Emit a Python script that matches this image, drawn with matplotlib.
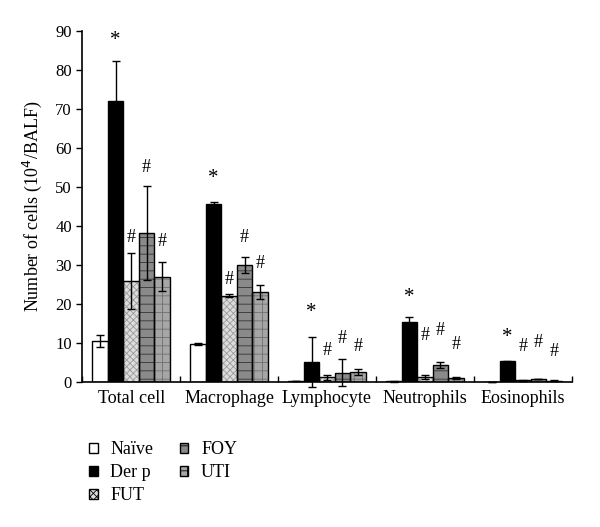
import matplotlib
matplotlib.use("Agg")
import matplotlib.pyplot as plt
from matplotlib.patches import Patch
import numpy as np

plt.rcParams['font.family'] = ['Liberation Serif', 'DejaVu Serif']
plt.rcParams['hatch.linewidth'] = 0.6

categories = ["Total cell", "Macrophage", "Lymphocyte", "Neutrophils", "Eosinophils"]
groups = ["Naïve", "Der p", "FUT", "FOY", "UTI"]

naive = [10.5, 9.8, 0.3, 0.2, 0.1]
derp = [72.0, 45.6, 5.2, 15.4, 5.3]
fut = [26.0, 22.1, 1.2, 1.3, 0.5]
foy = [38.3, 30.0, 2.4, 4.4, 0.8]
uti = [27.0, 23.0, 2.5, 1.0, 0.4]

naive_err = [1.5, 0.2, 0.1, 0.1, 0.0]
derp_err = [10.4, 0.6, 6.4, 1.3, 0.1]
fut_err = [7.2, 0.4, 0.6, 0.5, 0.1]
foy_err = [12.0, 2.0, 3.5, 0.7, 0.1]
uti_err = [3.7, 1.8, 0.8, 0.2, 0.1]

# significance labels per group and their heights
derp_sig = ["*", "*", "*", "*", "*"]
fut_sig = ["#", "#", "#", "#", "#"]
foy_sig = ["#", "#", "#", "#", "#"]
uti_sig = ["#", "#", "#", "#", "#"]
derp_sig_y = [87.7, 52.3, 17.8, 21.6, 11.4]
fut_sig_y = [37.0, 26.2, 8.2, 12.0, 9.0]
foy_sig_y = [55.0, 37.2, 11.3, 13.3, 10.1]
uti_sig_y = [36.0, 30.3, 9.0, 9.7, 7.8]

values = [naive, derp, fut, foy, uti]
errors = [naive_err, derp_err, fut_err, foy_err, uti_err]
sigs = [None, derp_sig, fut_sig, foy_sig, uti_sig]
sig_ys = [None, derp_sig_y, fut_sig_y, foy_sig_y, uti_sig_y]

styles = [
    dict(facecolor="white", hatch=None),
    dict(facecolor="black", hatch=None),
    dict(facecolor="#dcdcdc", hatch="xxxxx"),
    dict(facecolor="#8a8a8a", hatch="--"),
    dict(facecolor="#a6a6a6", hatch="++"),
]
hatch_colors = ["black", "black", "#9a9a9a", "#333333", "#707070"]

fig = plt.figure(figsize=(6.0, 5.27), dpi=100)
ax = fig.add_axes([0.137, 0.275, 0.816, 0.666])

x = np.arange(len(categories))
w = 0.158
for j, (vals, errs) in enumerate(zip(values, errors)):
    pos = x + (j - 2) * w
    st = styles[j]
    ax.bar(pos, vals, width=w, facecolor=st["facecolor"], hatch=st["hatch"],
           edgecolor=hatch_colors[j], linewidth=0, zorder=2)
    ax.bar(pos, vals, width=w, facecolor="none", edgecolor="black", linewidth=1.0, zorder=3)
    ax.errorbar(pos, vals, yerr=errs, fmt="none", ecolor="black", elinewidth=1.0,
                capsize=3.2, capthick=1.0, zorder=4, clip_on=False)
    if sigs[j] is not None:
        for i in range(len(categories)):
            ax.text(pos[i], sig_ys[j][i], sigs[j][i], ha="center", va="center",
                    fontsize=13 if sigs[j][i] == "#" else 15, color="black", zorder=5)

ax.set_xlim(-0.5, len(categories) - 0.5)
ax.set_ylim(0, 90)
ax.set_yticks(np.arange(0, 91, 10))
ax.tick_params(axis="y", direction="out", length=4, width=1, labelsize=12)
ax.set_xticks(x)
ax.set_xticklabels(categories, fontsize=13)
ax.tick_params(axis="x", length=0, pad=6)
ax.set_xticks(np.arange(-0.5, len(categories) + 0.5, 1.0), minor=True)
ax.tick_params(axis="x", which="minor", direction="in", length=4, width=1)
for s in ["top", "right"]:
    ax.spines[s].set_visible(False)
ax.spines["left"].set_linewidth(1.2)
ax.spines["bottom"].set_linewidth(1.2)
ax.set_ylabel("Number of cells (10$^4$/BALF)", fontsize=13, labelpad=8)

handles = []
for j, g in enumerate(groups):
    st = styles[j]
    handles.append(Patch(facecolor=st["facecolor"], hatch=st["hatch"], edgecolor="black",
                         linewidth=1.0, label=g))
fig.legend(handles=handles, loc="upper left", bbox_to_anchor=(0.134, 0.18), ncol=2,
           frameon=False, fontsize=13, handlelength=0.45, handleheight=0.45,
           handletextpad=0.7, columnspacing=1.5, labelspacing=0.33, borderpad=0)

fig.savefig("out.png", dpi=100)
